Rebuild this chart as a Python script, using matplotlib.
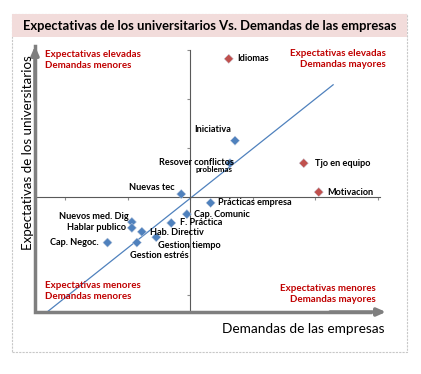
import matplotlib
matplotlib.use("Agg")
import matplotlib.pyplot as plt
from matplotlib.patches import Rectangle

plt.rcParams['font.family'] = ['Lato', 'DejaVu Sans']

# skills: (demandas de las empresas, expectativas de los universitarios)
skills = ["Idiomas", "Iniciativa", "Resover conflictos", "Tjo en equipo", "Motivacion",
          "Nuevas tec", "Prácticas empresa", "Cap. Comunic", "F. Práctica",
          "Nuevos med. Dig", "Hablar publico", "Hab. Directiv", "Gestion tiempo",
          "Gestion estrés", "Cap. Negoc."]
demandas = [0.62, 0.72, 0.64, 1.82, 2.06, -0.14, 0.33, -0.05, -0.30,
            -0.93, -0.93, -0.77, -0.54, -0.85, -1.32]
expectativas = [2.82, 1.15, 0.69, 0.69, 0.10, 0.06, -0.12, -0.35, -0.53,
                -0.51, -0.63, -0.71, -0.82, -0.93, -0.93]
destacado = [True, False, False, True, True, False, False, False, False,
             False, False, False, False, False, False]

# trend line end points
trend_x = [-2.29, 2.29]
trend_y = [-2.35, 2.29]

# label offsets in pixels (dx, dy, ha)
offsets = {
    "Idiomas": (8, 0, "left"),
    "Iniciativa": (-22, 11, "center"),
    "Resover conflictos": (4, 1, "right"),
    "Tjo en equipo": (11, 0, "left"),
    "Motivacion": (8, 0, "left"),
    "Nuevas tec": (-7, 7, "right"),
    "Prácticas empresa": (7, 0, "left"),
    "Cap. Comunic": (7, 0, "left"),
    "F. Práctica": (9, 0, "left"),
    "Nuevos med. Dig": (-3, 5, "right"),
    "Hablar publico": (-6, 0, "right"),
    "Hab. Directiv": (8, -1, "left"),
    "Gestion tiempo": (2, -8, "left"),
    "Gestion estrés": (-7, -13, "left"),
    "Cap. Negoc.": (-9, 0, "right"),
}

W, H = 421, 374


def fx(x):
    return x / W


def fy(y):
    return 1 - y / H


fig = plt.figure(figsize=(W / 100, H / 100), dpi=100)
fig.patch.set_facecolor("white")

# frame and title band
fig.patches.append(Rectangle((fx(12), fy(352)), (407 - 12) / W, (352 - 14) / H,
                             transform=fig.transFigure, facecolor="none",
                             edgecolor="#c8c8c8", lw=0.8, ls=(0, (2, 1))))
fig.patches.append(Rectangle((fx(12), fy(37)), (407 - 12) / W, (37 - 14) / H,
                             transform=fig.transFigure, facecolor="#f2dcdb",
                             edgecolor="none"))
fig.text(fx(210), fy(26), "Expectativas de los universitarios Vs. Demandas de las empresas",
         ha="center", va="center", fontsize=9.4, fontweight="bold")

ax = fig.add_axes([fx(35), fy(318), (383 - 35) / W, (318 - 47) / H])
ax.set_facecolor("none")
ax.set_xlim(-2.48, 3.088)
ax.set_ylim(-2.469, 3.061)
for s in ["top", "right"]:
    ax.spines[s].set_visible(False)
ax.spines["left"].set_position(("data", 0))
ax.spines["bottom"].set_position(("data", 0))
ax.spines["left"].set_bounds(-2.35, 3.0)
ax.spines["bottom"].set_bounds(-2.45, 3.04)
for s in ["left", "bottom"]:
    ax.spines[s].set_color("#595959")
    ax.spines[s].set_linewidth(0.8)
ax.set_xticks([-2, -1, 0, 1, 2, 3])
ax.set_yticks([-2, -1, 1, 2, 3])
ax.set_xticklabels([])
ax.set_yticklabels([])
ax.tick_params(length=2, width=0.8, color="#8c8c8c", direction="out")

ax.plot(trend_x, trend_y, color="#4f81bd", lw=0.9, zorder=2)

colors = ["#c0504d" if d else "#4f81bd" for d in destacado]
ax.scatter(demandas, expectativas, marker="D", s=22, c=colors, edgecolors="#c8d0e0",
           linewidths=0.3, zorder=3)

for name, xv, yv in zip(skills, demandas, expectativas):
    dx, dy, ha = offsets[name]
    ax.annotate(name, (xv, yv), xytext=(dx, dy), textcoords="offset pixels",
                ha=ha, va="center", fontsize=6.6, fontweight="bold")
ax.annotate("problemas", (demandas[2], expectativas[2]), xytext=(2, -6),
            textcoords="offset pixels", ha="right", va="center", fontsize=5.8,
            fontweight="bold")

# axis arrows
arrow = dict(arrowstyle="-|>,head_length=0.5,head_width=0.22", color="#7f7f7f", lw=2.5,
             shrinkA=0, shrinkB=0)
fig.add_artist(plt.Line2D([fx(35), fx(35), fx(370)], [fy(46), fy(312), fy(312)],
                          color="#7f7f7f", lw=2.5, transform=fig.transFigure,
                          solid_joinstyle="miter"))
ax.annotate("", xy=(fx(35), fy(46)), xytext=(fx(35), fy(100)),
            xycoords="figure fraction", textcoords="figure fraction", arrowprops=arrow)
ax.annotate("", xy=(fx(386), fy(312)), xytext=(fx(330), fy(312)),
            xycoords="figure fraction", textcoords="figure fraction", arrowprops=arrow)

# quadrant labels
red = "#c00000"
fig.text(fx(45), fy(50), "Expectativas elevadas\nDemandas menores", ha="left", va="top",
         color=red, fontsize=7, fontweight="bold", linespacing=1.25)
fig.text(fx(386), fy(49), "Expectativas elevadas\nDemandas mayores", ha="right", va="top",
         color=red, fontsize=7, fontweight="bold", linespacing=1.25, multialignment="right")
fig.text(fx(45), fy(281), "Expectativas menores\nDemandas menores", ha="left", va="top",
         color=red, fontsize=7, fontweight="bold", linespacing=1.25)
fig.text(fx(376), fy(284), "Expectativas menores\nDemandas mayores", ha="right", va="top",
         color=red, fontsize=7, fontweight="bold", linespacing=1.25, multialignment="right")

# axis titles
fig.text(fx(385), fy(329), "Demandas de las empresas", ha="right", va="center",
         fontsize=9.8)
fig.text(fx(28), fy(153), "Expectativas de los universitarios", ha="center", va="center",
         rotation=90, fontsize=9.6)

fig.savefig("out.png", dpi=100)
